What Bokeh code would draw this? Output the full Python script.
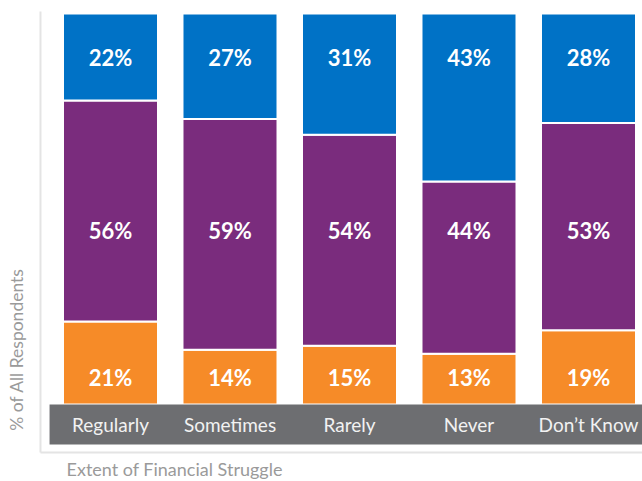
import math
from bokeh.plotting import figure
from bokeh.models import ColumnDataSource, Range1d
from bokeh.core.properties import value
from bokeh.embed import file_html
from bokeh.resources import INLINE

categories = ["Regularly", "Sometimes", "Rarely", "Never", "Don\u2019t Know"]
series = ["Orange", "Purple", "Blue"]
orange_vals = [21, 14, 15, 13, 19]
purple_vals = [56, 59, 54, 44, 53]
blue_vals = [22, 27, 31, 43, 28]
x_title = "Extent of Financial Struggle"
y_title = "% of All Respondents"

colors = ["#f68b28", "#7a2c7d", "#0072c6"]
label_rows = [6.9, 44.5, 88.7]   # fixed label heights per series (style)

xs = list(range(len(categories)))
totals = [o + p + b for o, p, b in zip(orange_vals, purple_vals, blue_vals)]
norm = {
    "Orange": [v * 100.0 / t for v, t in zip(orange_vals, totals)],
    "Purple": [v * 100.0 / t for v, t in zip(purple_vals, totals)],
    "Blue": [v * 100.0 / t for v, t in zip(blue_vals, totals)],
}
src = ColumnDataSource(dict(x=xs, **norm))

p = figure(width=642, height=481, output_backend="svg", toolbar_location=None,
           x_axis_type=None, y_axis_type=None,
           x_range=Range1d(-0.9205, 4.4519), y_range=Range1d(-19.69, 103.32),
           min_border_left=0, min_border_right=0, min_border_top=0, min_border_bottom=0)
p.outline_line_color = None
p.background_fill_color = "white"
p.border_fill_color = "white"

# light axis lines
p.segment(x0=[-0.5858, -0.5858], y0=[100.51, -12.28], x1=[-0.5858, 5.0], y1=[-12.28, -12.28],
          line_color="#e4e4e4", line_width=2)

p.vbar_stack(series, x="x", width=0.795, source=src, color=colors,
             line_color="white", line_width=2)

# gray category band
p.quad(left=[-0.51], right=[5.5], bottom=[-10.23], top=[0], fill_color="#6d6e71",
       line_color=None)

p.text(x=xs, y=[-5.12] * len(xs), text=categories, text_align="center",
       text_baseline="middle", text_color="#f2f2f2", text_font=value("Lato"),
       text_font_size="19px")

for vals, yrow in zip([orange_vals, purple_vals, blue_vals], label_rows):
    p.text(x=xs, y=[yrow] * len(xs), text=[f"{v}%" for v in vals],
           text_align="center", text_baseline="middle", text_color="white",
           text_font=value("Lato"), text_font_style="bold", text_font_size="22px")

p.text(x=[-0.368], y=[-16.62], text=[x_title], text_align="left",
       text_baseline="middle", text_color="#9a9a9a",
       text_font=value("Lato"), text_font_size="18px")
p.text(x=[-0.787], y=[14.07], text=[y_title], angle=math.pi / 2,
       text_align="center", text_baseline="middle", text_color="#9a9a9a",
       text_font=value("Lato"), text_font_size="17.5px")

open("out.html", "w").write(file_html(p, INLINE))
